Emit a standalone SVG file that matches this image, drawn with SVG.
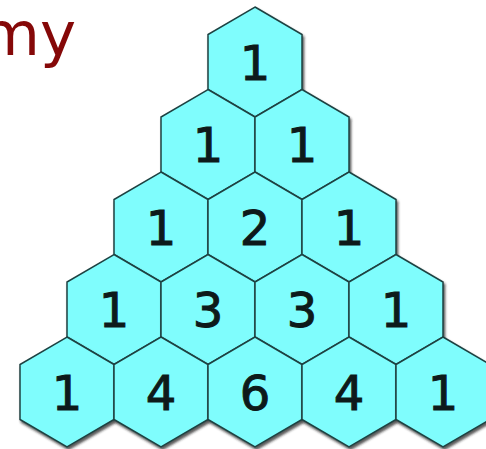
<svg xmlns="http://www.w3.org/2000/svg" width="486" height="449" viewBox="0 0 486 449">
  <defs>
    <filter id="sh" x="-20%" y="-20%" width="150%" height="150%">
      <feDropShadow dx="1.5" dy="2.5" stdDeviation="1" flood-color="#222" flood-opacity="0.75"/>
    </filter>
    <polygon id="hex" points="0,-55 47,-27.5 47,27.5 0,55 -47,27.5 -47,-27.5"/>
  </defs>
  <style>
    .hex { fill: #7ffdfd; stroke: #1f4242; stroke-width: 1.5; stroke-linejoin: miter; filter: url(#sh); }
    .num { font-family: "DejaVu Sans", Verdana, sans-serif; font-size: 48px; fill: #0d1a1a; stroke: #0d1a1a; stroke-width: 1; text-anchor: middle; }
    .title { font-family: "DejaVu Sans", Verdana, sans-serif; font-size: 61px; fill: #850808; text-anchor: end; }
  </style>
  <rect width="486" height="449" fill="#ffffff"/>
  <text class="title" x="76" y="55">my</text>
  <g id="r1c1" transform="translate(255,62)"><use href="#hex" class="hex"/><text class="num" y="17.5">1</text></g>
  <g id="r2c1" transform="translate(208,144.5)"><use href="#hex" class="hex"/><text class="num" y="17.5">1</text></g>
  <g id="r2c2" transform="translate(302,144.5)"><use href="#hex" class="hex"/><text class="num" y="17.5">1</text></g>
  <g id="r3c1" transform="translate(161,227)"><use href="#hex" class="hex"/><text class="num" y="17.5">1</text></g>
  <g id="r3c2" transform="translate(255,227)"><use href="#hex" class="hex"/><text class="num" y="17.5">2</text></g>
  <g id="r3c3" transform="translate(349,227)"><use href="#hex" class="hex"/><text class="num" y="17.5">1</text></g>
  <g id="r4c1" transform="translate(114,309.5)"><use href="#hex" class="hex"/><text class="num" y="17.5">1</text></g>
  <g id="r4c2" transform="translate(208,309.5)"><use href="#hex" class="hex"/><text class="num" y="17.5">3</text></g>
  <g id="r4c3" transform="translate(302,309.5)"><use href="#hex" class="hex"/><text class="num" y="17.5">3</text></g>
  <g id="r4c4" transform="translate(396,309.5)"><use href="#hex" class="hex"/><text class="num" y="17.5">1</text></g>
  <g id="r5c1" transform="translate(67,392)"><use href="#hex" class="hex"/><text class="num" y="17.5">1</text></g>
  <g id="r5c2" transform="translate(161,392)"><use href="#hex" class="hex"/><text class="num" y="17.5">4</text></g>
  <g id="r5c3" transform="translate(255,392)"><use href="#hex" class="hex"/><text class="num" y="17.5">6</text></g>
  <g id="r5c4" transform="translate(349,392)"><use href="#hex" class="hex"/><text class="num" y="17.5">4</text></g>
  <g id="r5c5" transform="translate(443,392)"><use href="#hex" class="hex"/><text class="num" y="17.5">1</text></g>
  <g id="connectors"/>
</svg>
